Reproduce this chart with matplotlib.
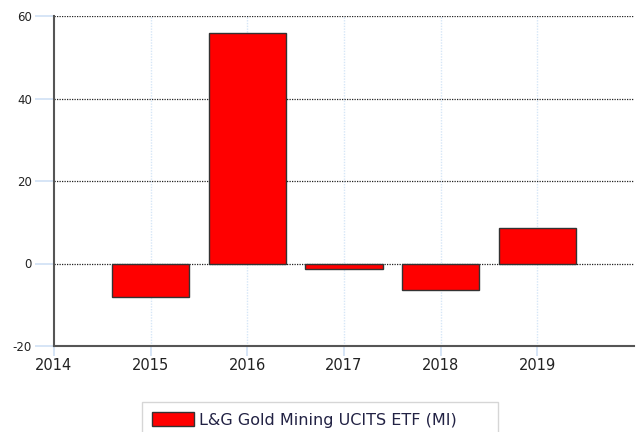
import matplotlib
matplotlib.use("Agg")
import matplotlib.pyplot as plt

# yearly returns (%)
years = [2015, 2016, 2017, 2018, 2019]
returns = [-8.2, 56.0, -1.4, -6.5, 8.5]
series_name = "L&G Gold Mining UCITS ETF (MI)"
xticks = [2014, 2015, 2016, 2017, 2018, 2019]
yticks = [-20, 0, 20, 40, 60]

fig = plt.figure(figsize=(6.37, 4.32), dpi=100)
ax = fig.add_axes([54 / 637, 86 / 432, 580 / 637, 330 / 432])

bars = ax.bar(years, returns, width=0.8, color="#ff0000", edgecolor="#333333",
              linewidth=1.0, label=series_name, zorder=3)

ax.set_xlim(2014, 2020)
ax.set_ylim(-20, 60)
ax.set_xticks(xticks)
ax.set_yticks(yticks)
ax.set_xticklabels([str(y) for y in xticks], fontsize=10.5, color="#222222")
ax.set_yticklabels([str(v) for v in yticks], fontsize=8.5, color="#222222")

# grid: light blue dotted verticals, black dotted horizontals
for x in xticks[1:]:
    ax.axvline(x, color="#d6e6f7", linestyle=(0, (1, 1)), linewidth=1.0, zorder=1)
for y in yticks[1:]:
    ax.axhline(y, color="#222222", linestyle=(0, (1, 1)), linewidth=0.9, zorder=2)

for side in ["top", "right"]:
    ax.spines[side].set_visible(False)
for side in ["left", "bottom"]:
    ax.spines[side].set_color("#555555")
    ax.spines[side].set_linewidth(1.5)

ax.tick_params(axis="x", color="#cfe0f5", length=7, width=1.2, pad=2)
ax.tick_params(axis="y", color="#cfe0f5", length=14, width=1.2, pad=2)

leg = fig.legend(handles=[bars], labels=[series_name + "      "], loc="upper left",
                 bbox_to_anchor=(142 / 637, 1 - 402 / 432), fancybox=False,
                 frameon=True, fontsize=11.5, handlelength=2.6, handleheight=0.9,
                 borderpad=0.65, handletextpad=0.3, borderaxespad=0.0)
leg.get_frame().set_edgecolor("#cccccc")
leg.get_frame().set_linewidth(1.0)
for t in leg.get_texts():
    t.set_color("#222244")

fig.savefig("out.png", dpi=100)
